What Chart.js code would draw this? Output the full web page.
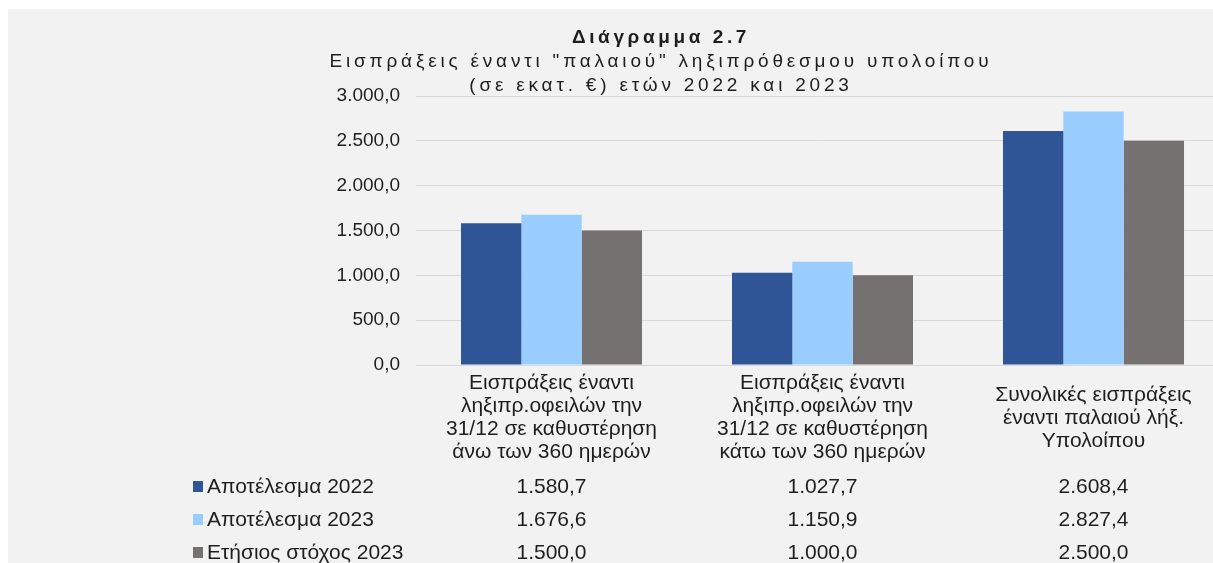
<!DOCTYPE html>
<html>
<head>
<meta charset="utf-8">
<script src="https://cdn.jsdelivr.net/npm/chart.js@4/dist/chart.umd.min.js"></script>
<style>
  html, body { margin: 0; padding: 0; background: #ffffff; overflow: hidden; width: 1213px; height: 563px; }
  #wrap { position: absolute; left: 8px; top: 9px; width: 1222px; height: 554px; }
  canvas { display: block; }
</style>
</head>
<body>
<div id="wrap"><canvas id="c" width="1222" height="554"></canvas></div>
<script>
const titleLines = [
  "Διάγραμμα 2.7",
  "Εισπράξεις έναντι \"παλαιού\" ληξιπρόθεσμου υπολοίπου",
  "(σε εκατ. €) ετών 2022 και 2023"
];
const categories = [
  ["Εισπράξεις έναντι", "ληξιπρ.οφειλών την", "31/12 σε καθυστέρηση", "άνω των 360 ημερών"],
  ["Εισπράξεις έναντι", "ληξιπρ.οφειλών την", "31/12 σε καθυστέρηση", "κάτω των 360 ημερών"],
  ["Συνολικές εισπράξεις", "έναντι παλαιού λήξ.", "Υπολοίπου"]
];
const seriesNames = ["Αποτέλεσμα 2022", "Αποτέλεσμα 2023", "Ετήσιος στόχος 2023"];
const result2022 = [1580.7, 1027.7, 2608.4];
const result2023 = [1676.6, 1150.9, 2827.4];
const target2023 = [1500.0, 1000.0, 2500.0];
const yMin = 0, yMax = 3000, yStep = 500;

const colors = ["#2f5597", "#99ccff", "#767171"];
const FONT = "'Liberation Sans', Arial, sans-serif";
const TEXT = "#1e1e1e";

function fmtGR(v) {
  const fixed = Math.abs(v).toFixed(1);
  const [ip, dp] = fixed.split(".");
  const withDots = ip.replace(/\B(?=(\d{3})+(?!\d))/g, ".");
  return (v < 0 ? "-" : "") + withDots + "," + dp;
}

const seriesData = [result2022, result2023, target2023];

const bgPlugin = {
  id: "bg",
  beforeDraw(chart) {
    const ctx = chart.ctx;
    ctx.save();
    ctx.fillStyle = "#f2f2f2";
    ctx.fillRect(0, 0, chart.width, chart.height);
    ctx.restore();
  }
};

const decoPlugin = {
  id: "deco",
  afterDraw(chart) {
    const ctx = chart.ctx;
    const xs = chart.scales.x;
    ctx.save();
    // Title
    ctx.fillStyle = TEXT;
    ctx.textAlign = "center";
    ctx.textBaseline = "middle";
    const cx = 653;
    ctx.letterSpacing = "3.6px";
    ctx.font = "bold 19px " + FONT;
    ctx.fillText(titleLines[0], cx, 29);
    ctx.letterSpacing = "3.8px";
    ctx.font = "19px " + FONT;
    ctx.fillText(titleLines[1], cx, 53);
    ctx.fillText(titleLines[2], cx, 77);
    ctx.letterSpacing = "0px";

    // Category labels (vertically centred blocks)
    ctx.font = "21px " + FONT;
    const lh = 23;
    const blockCenter = 409;
    categories.forEach((lines, i) => {
      const x = xs.getPixelForValue(i);
      const y0 = blockCenter - (lines.length - 1) * lh / 2;
      lines.forEach((t, j) => ctx.fillText(t, x, y0 + j * lh));
    });

    // Data table
    const rowY = [478, 511, 544];
    ctx.font = "21px " + FONT;
    seriesNames.forEach((name, r) => {
      const y = rowY[r];
      ctx.fillStyle = colors[r];
      ctx.fillRect(185, y - 6, 10, 11);
      ctx.fillStyle = TEXT;
      ctx.textAlign = "left";
      ctx.fillText(name, 199, y);
      ctx.textAlign = "center";
      seriesData[r].forEach((v, i) => {
        ctx.fillText(fmtGR(v), xs.getPixelForValue(i), y);
      });
    });
    ctx.restore();
  }
};

new Chart(document.getElementById("c"), {
  type: "bar",
  data: {
    labels: categories,
    datasets: seriesNames.map((n, i) => ({
      label: n,
      data: seriesData[i],
      backgroundColor: colors[i],
      borderWidth: 0,
      categoryPercentage: 0.668,
      barPercentage: 1.0
    }))
  },
  options: {
    responsive: false,
    animation: false,
    devicePixelRatio: 1,
    layout: { padding: { top: 87, bottom: 198, left: 0, right: 1 } },
    plugins: {
      legend: { display: false },
      title: { display: false },
      tooltip: { enabled: false }
    },
    scales: {
      x: {
        display: false
      },
      y: {
        min: yMin,
        max: yMax,
        ticks: {
          stepSize: yStep,
          padding: 16,
          color: TEXT,
          font: { family: FONT, size: 19 },
          callback: (v) => fmtGR(v)
        },
        grid: { color: "#d9d9d9", lineWidth: 1, drawTicks: false },
        border: { display: false },
        afterFit(scale) { scale.width = 408; }
      }
    }
  },
  plugins: [bgPlugin, decoPlugin]
});
</script>
</body>
</html>
